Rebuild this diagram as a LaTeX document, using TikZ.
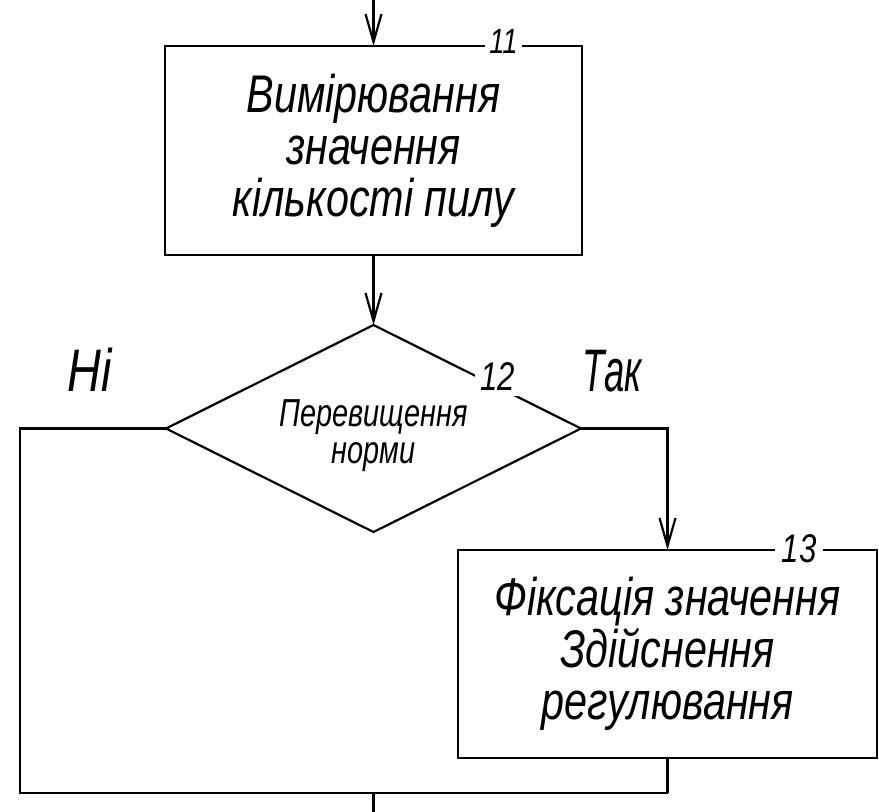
\documentclass[tikz,border=0pt]{standalone}
\usepackage{fontspec}
\newfontfamily\gost[FakeStretch=0.78]{Liberation Sans}
\usetikzlibrary{shapes.geometric,arrows.meta}
\tikzset{
  every node/.style={outer sep=0pt, inner sep=0pt},
  blockbox/.style={draw, line width=2.2pt, align=center,
    font=\gost\itshape\fontsize{53}{52}\selectfont},
  decide/.style={draw, line width=2.2pt, diamond, aspect=2, align=center,
    minimum width=415pt, minimum height=207pt,
    font=\gost\itshape\fontsize{39}{37}\selectfont},
  conn/.style={line width=2.2pt},
  numlabel/.style={fill=white, inner xsep=4pt, anchor=base},
  branchlabel/.style={anchor=base, font=\gost\itshape\fontsize{60}{60}\selectfont},
  >={Straight Barb[length=28pt,width=16pt]}
}
\begin{document}
\begin{tikzpicture}[x=1pt,y=-1pt]
\useasboundingbox[fill=white] (0,0) rectangle (879,812);
% blocks
\node[blockbox, minimum width=417pt, minimum height=209pt] (b1) at (373.5,150.5)
  {Вимірювання\\значення\\кількості пилу};
\node[decide] (d) at (373.5,428.5)
  {\rule{0pt}{42pt}\scalebox{0.95}[1]{Перевищення}\\\scalebox{0.95}[1]{норми}};
\node[blockbox, minimum width=419pt, minimum height=208pt] (b3) at (667.5,654)
  {Фіксація значення\\Здійснення\\регулювання};
% coordinates
\coordinate (top) at (373.5,0);
\coordinate (lb) at (20,793);
\coordinate (rb) at (667.5,793);
\coordinate (join) at (373.5,793);
\coordinate (out) at (373.5,812);
% connectors
\draw[conn,->] (top) -- (b1.north);
\draw[conn,->] (b1.south) -- (d.north);
\draw[conn] (d.west) -| (lb) -- (rb);
\draw[conn] (b3.south) -- (rb);
\draw[conn] (join) -- (out);
\draw[conn,->] (d.east) -| (b3.north);
% number labels
\node[numlabel, font=\gost\itshape\fontsize{35}{35}\selectfont] (n11) at (503.5,53) {11};
\node[numlabel, inner sep=6pt, font=\gost\itshape\fontsize{40}{40}\selectfont] (n12) at (498,390) {12};
\node[numlabel, inner xsep=7pt, font=\gost\itshape\fontsize{40}{40}\selectfont] (n13) at (799,562) {13};
% branch labels
\node[branchlabel] (no) at (90,391) {Ні};
\node[branchlabel] (yes) at (612,391) {\scalebox{0.78}[1]{Так}};
\end{tikzpicture}
\end{document}
